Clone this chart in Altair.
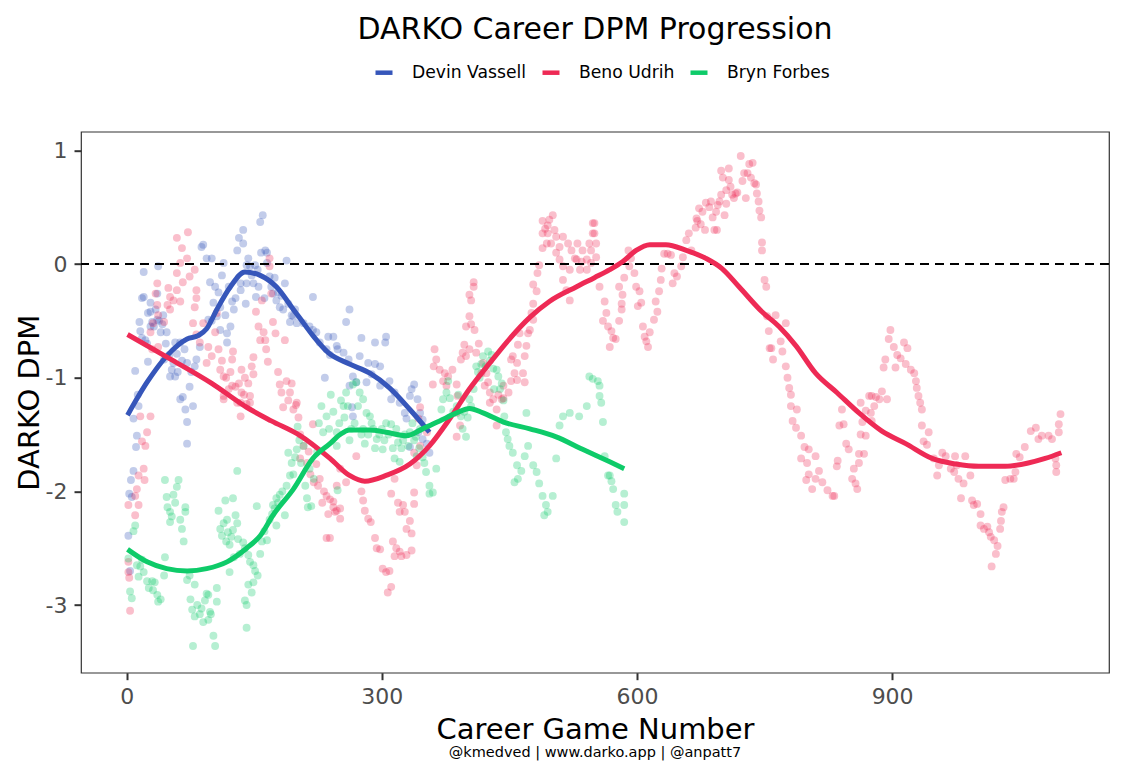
import altair as alt
import pandas as pd

PLAYERS = ["Devin Vassell", "Beno Udrih", "Bryn Forbes"]
COLORS = ["#3656BA", "#EE2A55", "#0ECB69"]
TITLE = "DARKO Career DPM Progression"
X_TITLE = "Career Game Number"
Y_TITLE = "DARKO DPM"
CAPTION = "@kmedved | www.darko.app | @anpatt7"
X_TICKS = [0, 300, 600, 900]
Y_TICKS = [-3, -2, -1, 0, 1]

DEVIN_POINTS = [
    (2, -2.39), (3, -2.02), (4, -2.7), (5, -1.9), (6, -2.05), (8, -1.82), (8, -1.36), (10, -0.94),
    (11, -1.61), (12, -1.51), (13, -1.15), (14, -1.25), (15, -0.51), (16, -0.59), (18, -0.30),
    (18, -0.65), (20, -0.29), (20, -0.07), (22, -0.67), (24, -0.70), (25, -0.43), (25, -0.86),
    (28, -0.34), (28, -0.42), (28, -0.55), (30, -0.51), (32, -0.55), (34, -0.40), (36, -0.49),
    (36, -0.26), (37, -0.02), (38, -0.50), (40, -0.60), (42, -0.53), (43, -0.45), (44, -0.84),
    (46, -0.70), (47, -0.60), (50, -0.80), (51, -0.99), (53, -0.93), (55, -0.87), (57, -0.99),
    (57, -0.69), (59, -0.79), (60, -0.95), (63, -0.69), (63, -1.19), (65, -0.85), (66, -1.17),
    (68, -0.75), (69, -1.28), (71, -1.39), (71, -1.58), (71, -0.87), (74, -1.08), (76, -0.95),
    (78, -1.25), (80, -0.90), (82, -0.84), (86, -0.73), (88, 0.15), (90, 0.17), (94, 0.05),
    (96, -0.49), (98, -0.16), (100, -0.50), (100, 0.05), (102, -0.34), (104, -0.20), (106, -0.46),
    (108, -0.25), (110, -0.58), (110, -0.38), (112, -0.10), (114, 0.01), (116, -0.45), (118, -0.69),
    (118, -0.61), (120, -0.20), (122, -0.55), (124, -0.33), (126, -0.40), (128, -0.30), (130, 0.12),
    (132, 0.23), (134, -0.23), (134, -0.17), (137, 0.30), (137, 0.18), (140, -0.35), (141, -0.17),
    (141, -0.01), (143, 0.05), (145, -0.02), (147, -0.10), (149, -0.17), (151, -0.01), (152, -0.29),
    (154, -0.05), (155, -0.20), (157, 0.37), (158, 0.10), (160, 0.43), (162, -0.30), (163, 0.12),
    (165, 0.01), (165, 0.10), (168, -0.11), (170, -0.20), (172, -0.26), (174, -0.12), (176, -0.32),
    (178, -0.25), (180, -0.38), (182, -0.28), (184, -0.40), (186, -0.17), (188, 0.03), (190, -0.35),
    (192, -0.51), (194, -0.45), (196, -0.46), (198, -0.40), (200, -0.52), (208, -0.52), (215, -0.55),
    (219, -0.29), (219, -0.58), (223, -0.60), (227, -0.69), (233, -1.0), (235, -0.75), (237, -0.64),
    (239, -0.8), (243, -0.64), (247, -0.72), (248, -0.75), (255, -0.78), (258, -0.51), (261, -0.84),
    (262, -0.40), (262, -1.07), (265, -1.26), (266, -0.99), (266, -1.34), (270, -1.04), (274, -0.81),
    (276, -0.65), (282, -1.04), (284, -0.87), (288, -0.97), (292, -0.69), (292, -0.88), (298, -0.90),
    (298, -1.07), (304, -0.69), (305, -0.64), (309, -1.03), (311, -1.19), (315, -1.13), (321, -1.22),
    (327, -1.31), (329, -1.36), (333, -1.16), (333, -1.61), (335, -1.10), (338, -1.06), (342, -1.19),
    (343, -1.48), (345, -1.31), (348, -1.37), (348, -1.54), (353, -1.58), (356, -1.66),
]

BENO_POINTS = [
    (2, -2.12), (2, -2.62), (2, -2.71), (3, -2.76), (4, -3.05), (10, -2.04), (10, -2.21), (12, -1.98),
    (14, -1.86), (14, -2.12), (16, -1.34), (18, -1.56), (20, -1.80), (21, -1.90), (22, -1.60),
    (24, -1.48), (28, -1.34), (28, -0.60), (30, -0.75), (31, -0.52), (34, -0.26), (36, -0.17),
    (36, -0.36), (37, -0.45), (37, -0.73), (44, -0.51), (48, -0.36), (49, -0.21), (51, -0.29),
    (51, -0.40), (55, -0.32), (59, 0.23), (59, -0.08), (59, -0.23), (63, 0.01), (63, -0.33),
    (65, 0.14), (66, -0.16), (71, 0.05), (72, 0.28), (74, -0.11), (78, -0.52), (80, -0.05),
    (80, -0.38), (82, -0.23), (82, -0.30), (82, -0.62), (86, -0.69), (90, -0.52), (94, -0.87),
    (96, -0.73), (100, -0.81), (104, -0.60), (106, -0.43), (108, -0.75), (110, -0.93), (112, -0.85),
    (114, -0.99), (114, -1.16), (114, -1.19), (117, -1.0), (120, -1.10), (122, -0.95), (124, -0.84),
    (124, -1.07), (125, -0.77), (128, -1.08), (130, -1.22), (132, -1.05), (134, -1.22), (134, -1.34),
    (135, -0.93), (135, -1.13), (138, -1.15), (139, -1.0), (141, -1.23), (143, -1.05), (145, -1.16),
    (145, -1.22), (147, -0.90), (149, -0.97), (149, -0.82), (152, -0.42), (155, -0.55), (157, -0.67),
    (159, -0.32), (161, -0.60), (163, -0.67), (164, -0.75), (166, -0.86), (168, -0.02), (168, 0.05),
    (170, -0.26), (172, -0.51), (175, -0.61), (178, -0.95), (180, -1.06), (182, -1.13), (184, -1.26),
    (186, -0.67), (188, -1.03), (190, -1.20), (192, -1.13), (194, -1.05), (196, -1.28), (199, -1.24),
    (200, -1.22), (202, -1.35), (204, -1.50), (204, -1.71), (208, -1.60), (212, -1.75), (214, -1.65),
    (216, -1.85), (219, -1.41), (220, -1.92), (223, -1.76), (225, -1.95), (227, -1.89), (230, -2.10),
    (232, -2.0), (235, -2.04), (235, -2.41), (237, -2.20), (239, -2.07), (239, -2.41), (243, -2.14),
    (243, -2.09), (245, -2.18), (247, -2.17), (247, -1.95), (251, -1.80), (251, -2.15), (251, -2.24),
    (258, -1.92), (270, -1.69), (276, -2.0), (278, -2.08), (280, -2.17), (284, -2.24), (287, -2.27),
    (292, -2.41), (294, -2.50), (298, -2.51), (301, -2.68), (305, -2.71), (307, -2.89), (309, -2.70),
    (311, -2.84), (311, -2.02), (313, -2.44), (315, -1.89), (315, -2.57), (317, -2.50), (319, -2.10),
    (321, -2.18), (321, -2.53), (323, -2.57), (325, -2.12), (327, -2.18), (329, -2.33), (329, -2.56),
    (333, -2.26), (335, -2.37), (335, -2.52), (338, -2.11), (338, -2.01), (338, -1.66), (341, -1.77),
    (343, -1.36), (345, -1.60), (345, -1.26), (353, -1.48), (360, -1.06), (361, -0.90), (362, -0.75),
    (364, -0.84), (368, -0.93), (372, -1.03), (374, -0.96), (376, -1.07), (378, -0.99), (383, -0.93),
    (388, -1.06), (388, -1.31), (388, -1.52), (389, -1.16), (392, -1.42), (393, -0.84), (395, -0.78),
    (397, -0.71), (399, -0.81), (399, -0.55), (403, -0.46), (403, -0.27), (403, -0.75), (405, -0.53),
    (405, -0.32), (408, -0.16), (408, -0.20), (409, -0.58), (411, -0.78), (414, -0.70), (417, -0.96),
    (419, -0.87), (421, -1.07), (423, -0.96), (425, -1.04), (427, -1.13), (427, -1.22), (431, -1.19),
    (435, -1.28), (435, -1.42), (437, -1.15), (441, -1.19), (443, -1.18), (443, -1.07), (449, -1.13),
    (452, -1.03), (452, -0.84), (454, -0.81), (456, -0.96), (459, -0.87), (459, -1.02), (460, -0.71),
    (462, -0.61), (466, -0.96), (468, -0.81), (468, -1.04), (470, -0.72), (472, -0.61), (474, -0.58),
    (476, -0.43), (478, -0.35), (478, -0.18), (478, -0.49), (482, -0.24), (483, -0.08), (485, -0.01),
    (489, 0.14), (489, 0.38), (489, 0.27), (492, 0.31), (494, 0.18), (495, 0.34), (495, 0.27),
    (497, 0.39), (499, 0.18), (501, 0.43), (503, 0.30), (505, 0.24), (505, 0.10), (509, 0.15),
    (509, 0.04), (513, -0.02), (513, -0.14), (513, 0.24), (517, -0.23), (519, 0.18), (521, -0.05),
    (521, -0.32), (523, 0.12), (527, 0.05), (529, 0.04), (530, 0.18), (533, -0.05), (535, 0.02),
    (536, 0.12), (541, -0.05), (541, 0.04), (544, 0.18), (546, 0.01), (546, 0.12), (548, 0.36),
    (548, 0.27), (550, 0.36), (550, 0.27), (552, 0.18), (552, 0.06), (556, -0.20), (560, -0.50),
    (562, -0.33), (564, -0.43), (566, -0.55), (568, -0.73), (570, -0.59), (572, -0.65), (575, -0.66),
    (579, -0.50), (579, -0.20), (582, -0.40), (582, -0.35), (583, -0.27), (585, -0.12), (590, 0.12),
    (591, -0.02), (593, 0.05), (597, -0.08), (599, -0.20), (601, -0.37), (603, -0.24), (605, -0.34),
    (607, -0.55), (609, -0.64), (611, -0.68), (613, -0.73), (615, -0.60), (620, -0.49), (622, -0.33),
    (624, -0.42), (626, -0.24), (628, -0.14), (629, -0.04), (632, 0.09), (636, 0.09), (640, 0.08),
    (642, -0.17), (644, -0.08), (647, -0.11), (652, -0.02), (654, 0.06), (658, 0.21), (661, 0.27),
    (664, 0.12), (669, 0.32), (670, 0.40), (671, 0.38), (673, 0.49), (675, 0.35), (677, 0.46),
    (680, 0.30), (681, 0.54), (685, 0.50), (687, 0.55), (689, 0.41), (691, 0.30), (693, 0.46),
    (694, 0.30), (695, 0.52), (697, 0.55), (699, 0.61), (699, 0.82), (701, 0.76), (703, 0.43),
    (705, 0.53), (705, 0.65), (708, 0.84), (708, 0.74), (710, 0.68), (712, 0.61), (714, 0.58),
    (716, 0.62), (718, 0.63), (722, 0.95), (724, 0.73), (726, 0.80), (728, 0.58), (730, 0.80),
    (732, 0.88), (734, 0.76), (736, 0.89), (738, 0.71), (740, 0.70), (741, 0.62), (743, 0.55),
    (744, 0.47), (746, 0.41), (747, 0.19), (747, 0.12), (750, -0.14), (752, -0.20), (753, -0.46),
    (755, -0.59), (756, -0.74), (758, -0.74), (760, -0.84), (763, -0.45), (769, -0.68), (771, -0.77),
    (775, -0.52), (775, -0.90), (777, -1.00), (779, -1.09), (781, -1.15), (781, -1.25), (783, -1.38),
    (787, -1.44), (788, -1.28), (793, -1.51), (793, -1.71), (797, -1.61), (799, -1.90), (800, -1.75),
    (802, -1.63), (802, -1.85), (806, -1.98), (810, -1.69), (810, -1.89), (814, -1.82), (818, -1.92),
    (824, -1.99), (830, -2.04), (832, -2.04), (835, -1.78), (836, -1.73), (838, -1.42), (841, -1.28),
    (843, -1.41), (846, -1.58), (849, -1.63), (853, -1.89), (855, -1.80), (857, -1.93), (859, -1.98),
    (861, -1.67), (861, -1.75), (863, -1.50), (863, -1.22), (865, -1.39), (867, -1.67), (869, -1.51),
    (869, -1.29), (873, -1.16), (875, -1.31), (876, -1.38), (876, -1.16), (879, -1.25), (881, -1.17),
    (885, -1.19), (888, -1.12), (890, -0.91), (892, -0.84), (894, -1.19), (896, -0.66), (898, -0.58),
    (902, -0.73), (904, -0.91), (906, -0.80), (910, -0.83), (914, -0.69), (916, -0.88), (918, -0.74),
    (922, -0.93), (926, -0.96), (928, -1.03), (929, -1.09), (931, -1.16), (933, -1.22), (935, -1.28),
    (935, -1.42), (937, -1.56), (941, -1.59), (943, -1.48), (949, -1.71), (953, -1.86), (955, -1.77),
    (959, -1.66), (963, -1.69), (969, -1.80), (973, -1.83), (974, -1.69), (976, -1.77), (978, -1.89),
    (981, -2.06), (984, -1.93), (986, -1.69), (992, -1.86), (994, -2.08), (996, -2.12), (1000, -2.11),
    (1004, -2.20), (1004, -2.30), (1008, -2.33), (1012, -2.31), (1014, -2.36), (1016, -2.40),
    (1017, -2.66), (1020, -2.43), (1022, -2.55), (1024, -2.48), (1027, -2.33), (1028, -2.26),
    (1029, -2.18), (1031, -2.14), (1033, -1.90), (1039, -1.89), (1043, -1.89), (1045, -1.83),
    (1046, -1.67), (1050, -1.70), (1056, -1.61), (1063, -1.47), (1069, -1.44), (1072, -1.54),
    (1076, -1.51), (1084, -1.51), (1088, -1.54), (1092, -1.71), (1093, -1.77), (1093, -1.83),
    (1096, -1.48), (1096, -1.41), (1098, -1.32),
]

BRYN_POINTS = [
    (2, -2.59), (4, -2.88), (6, -2.94), (8, -2.35), (10, -2.30), (12, -2.65), (14, -2.75), (16, -2.66),
    (18, -2.60), (20, -2.71), (24, -2.79), (26, -2.85), (30, -2.79), (31, -2.87), (33, -2.80),
    (36, -2.91), (37, -2.97), (40, -2.95), (44, -2.74), (45, -1.90), (45, -2.58), (47, -2.05),
    (48, -2.14), (51, -2.18), (51, -2.27), (53, -2.22), (55, -2.03), (57, -2.10), (59, -1.96),
    (61, -1.90), (63, -2.25), (65, -2.33), (67, -2.44), (69, -2.14), (69, -2.18), (71, -2.78),
    (74, -2.74), (75, -2.95), (77, -3.04), (78, -3.36), (80, -2.82), (80, -3.10), (83, -3.00),
    (86, -3.08), (88, -3.03), (90, -3.15), (92, -2.96), (94, -2.90), (96, -2.91), (96, -3.13),
    (98, -3.06), (99, -3.08), (102, -3.27), (104, -3.36), (106, -2.85), (106, -2.97), (108, -2.17),
    (110, -2.33), (112, -2.39), (114, -2.28), (116, -2.08), (117, -2.44), (118, -2.25), (119, -2.36),
    (121, -2.47), (121, -2.71), (123, -2.40), (125, -2.06), (125, -2.34), (126, -2.58), (128, -2.21),
    (130, -2.28), (130, -1.82), (131, -2.42), (133, -2.55), (137, -2.45), (139, -2.50), (139, -2.96),
    (141, -3.0), (141, -3.20), (143, -2.56), (143, -2.82), (145, -2.62), (147, -2.89), (149, -2.65),
    (149, -2.80), (151, -2.70), (153, -2.13), (154, -2.74), (157, -2.55), (159, -2.44), (162, -2.35),
    (165, -2.43), (168, -2.25), (171, -2.20), (172, -2.12), (174, -2.15), (176, -2.30), (176, -2.06),
    (178, -2.10), (180, -2.03), (183, -2.00), (186, -2.21), (188, -1.95), (190, -1.66), (192, -1.86),
    (194, -1.75), (196, -1.85), (198, -1.70), (200, -1.63), (201, -1.43), (203, -1.55), (205, -1.75),
    (208, -1.60), (210, -1.95), (212, -2.06), (213, -2.14), (215, -1.80), (217, -2.13), (220, -1.89),
    (224, -1.65), (226, -1.40), (229, -1.25), (231, -1.48), (235, -1.34), (238, -1.45), (240, -1.15),
    (243, -1.30), (247, -1.60), (247, -1.48), (248, -1.99), (250, -1.40), (252, -1.20), (255, -1.25),
    (256, -1.35), (258, -1.13), (260, -1.25), (262, -1.55), (264, -1.45), (266, -1.06), (268, -1.40),
    (270, -1.04), (272, -1.25), (274, -1.13), (276, -1.50), (278, -1.19), (278, -1.45), (280, -1.58),
    (282, -1.31), (284, -1.50), (286, -1.34), (288, -1.40), (290, -1.45), (292, -1.62), (294, -1.54),
    (297, -1.50), (300, -1.45), (301, -1.63), (303, -1.55), (305, -1.40), (308, -1.50), (311, -1.41),
    (313, -1.62), (315, -1.71), (317, -1.45), (319, -1.57), (321, -1.74), (323, -1.62), (325, -1.55),
    (327, -1.50), (331, -1.60), (333, -1.48), (336, -1.40), (338, -1.55), (340, -1.52), (341, -1.69),
    (344, -1.62), (345, -1.45), (348, -1.70), (350, -1.75), (352, -1.83), (356, -1.95), (356, -2.02),
    (360, -2.01), (364, -1.80), (370, -1.28), (372, -1.19), (376, -1.13), (378, -1.03), (380, -1.18),
    (384, -1.30), (388, -1.25), (390, -1.15), (393, -1.34), (395, -1.45), (397, -1.30), (399, -1.52),
    (401, -1.35), (403, -1.19), (405, -1.25), (408, -1.10), (411, -0.90), (413, -0.95), (415, -1.0),
    (417, -0.88), (419, -0.81), (422, -0.9), (425, -0.77), (427, -0.85), (429, -0.80), (431, -0.92),
    (432, -1.1), (435, -0.93), (437, -0.99), (439, -1.10), (441, -1.05), (443, -1.20), (444, -1.34),
    (446, -1.48), (448, -1.54), (450, -1.60), (454, -1.66), (456, -1.92), (459, -1.77), (460, -1.89),
    (464, -1.82), (468, -1.69), (470, -1.31), (472, -1.60), (478, -1.77), (482, -1.83), (485, -1.93),
    (489, -2.04), (491, -2.21), (493, -2.12), (495, -2.18), (501, -2.04), (505, -1.71), (509, -1.42),
    (513, -1.34), (521, -1.31), (532, -1.34), (541, -1.25), (544, -0.99), (548, -1.01), (554, -1.03),
    (556, -1.07), (556, -1.16), (558, -1.22), (560, -1.39), (562, -1.69), (566, -1.86), (568, -1.86),
    (570, -1.91), (572, -1.98), (575, -2.12), (577, -2.18), (585, -2.02), (585, -2.12), (585, -2.27),
]

DEVIN_SMOOTH = [
    (1, -1.33), (24, -1.04), (47, -0.81), (71, -0.66), (84, -0.63), (94, -0.57), (106, -0.40),
    (122, -0.20), (139, -0.07), (157, -0.10), (176, -0.20), (196, -0.40), (204, -0.48), (219, -0.63),
    (237, -0.78), (262, -0.88), (286, -0.96), (309, -1.09), (333, -1.28), (356, -1.48),
]
BENO_SMOOTH = [
    (1, -0.62), (50, -0.83), (100, -1.05), (141, -1.26), (170, -1.38), (204, -1.51), (239, -1.71),
    (262, -1.86), (280, -1.91), (305, -1.86), (333, -1.76), (356, -1.60), (380, -1.36), (403, -1.10),
    (427, -0.87), (450, -0.66), (474, -0.47), (497, -0.33), (529, -0.20), (550, -0.12), (568, -0.05),
    (583, 0.02), (599, 0.12), (615, 0.17), (634, 0.17), (658, 0.12), (681, 0.05), (700, -0.04),
    (720, -0.20), (747, -0.42), (767, -0.55), (787, -0.72), (810, -0.96), (835, -1.13), (861, -1.31),
    (888, -1.47), (916, -1.58), (947, -1.71), (975, -1.76), (1002, -1.78), (1033, -1.78),
    (1060, -1.75), (1080, -1.71), (1099, -1.66),
]
BRYN_SMOOTH = [
    (1, -2.51), (24, -2.62), (47, -2.68), (71, -2.70), (94, -2.68), (118, -2.62), (141, -2.50),
    (157, -2.39), (172, -2.21), (196, -1.98), (219, -1.71), (239, -1.58), (251, -1.50), (262, -1.46),
    (286, -1.46), (305, -1.48), (329, -1.51), (348, -1.45), (368, -1.38), (388, -1.31), (403, -1.27),
    (419, -1.31), (443, -1.39), (474, -1.45), (505, -1.52), (536, -1.63), (568, -1.74), (585, -1.80),
]

FONT = "DejaVu Sans"

point_rows = []
for name, pts in zip(PLAYERS, [DEVIN_POINTS, BENO_POINTS, BRYN_POINTS]):
    for g, v in pts:
        point_rows.append({"player": name, "game": g, "dpm": v})
points_df = pd.DataFrame(point_rows)

smooth_rows = []
for name, pts in zip(PLAYERS, [DEVIN_SMOOTH, BENO_SMOOTH, BRYN_SMOOTH]):
    for i, (g, v) in enumerate(pts):
        smooth_rows.append({"player": name, "game": g, "dpm": v, "ord": i})
smooth_df = pd.DataFrame(smooth_rows)

x_enc = alt.X(
    "game:Q",
    scale=alt.Scale(domain=[-53.7, 1155], nice=False, zero=False),
    axis=alt.Axis(values=X_TICKS, title=X_TITLE, format="d"),
)
y_enc = alt.Y(
    "dpm:Q",
    scale=alt.Scale(domain=[-3.595, 1.164], nice=False, zero=False),
    axis=alt.Axis(values=Y_TICKS, title=Y_TITLE, labelExpr="toString(datum.value)"),
)
color_enc = alt.Color(
    "player:N",
    scale=alt.Scale(domain=PLAYERS, range=COLORS),
    legend=alt.Legend(
        title=None,
        orient="none",
        direction="horizontal",
        legendX=292,
        legendY=-70,
        symbolType="stroke",
        symbolStrokeWidth=4.5,
        symbolSize=289,
        symbolOpacity=1,
        labelFontSize=17.2,
        labelFont=FONT,
        labelColor="black",
        labelOffset=17,
        columnPadding=6,
        padding=0,
    ),
)

points = alt.Chart(points_df).mark_circle(size=62, opacity=0.3).encode(
    x=x_enc, y=y_enc, color=color_enc
)
zero_line = alt.Chart(pd.DataFrame({"v": [0]})).mark_rule(
    color="black", strokeWidth=2, strokeDash=[9, 6]
).encode(y="v:Q")
lines = alt.Chart(smooth_df).mark_line(strokeWidth=5, interpolate="monotone").encode(
    x=x_enc, y=y_enc, color=color_enc, order="ord:Q"
)
caption = alt.Chart(pd.DataFrame({"t": [CAPTION]})).mark_text(
    font=FONT, fontSize=14.5, color="black", align="center", baseline="alphabetic"
).encode(text="t:N", x=alt.value(514), y=alt.value(625.3))

chart = (
    alt.layer(points, zero_line, lines, caption)
    .properties(
        width=1028,
        height=541,
        autosize=alt.AutoSizeParams(type="none"),
        padding={"left": 73, "top": 123.7, "right": 8, "bottom": 94},
        title=alt.TitleParams(
            TITLE, font=FONT, fontSize=30, fontWeight="normal", color="black",
            anchor="middle", baseline="alphabetic", offset=-7.5,
        ),
    )
    .configure_view(stroke="#333333", strokeWidth=1.2)
    .configure_axis(
        domain=False,
        grid=False,
        ticks=True,
        tickColor="#333333",
        tickWidth=2,
        tickSize=7,
        labelFont=FONT,
        labelFontSize=22,
        labelColor="#4D4D4D",
        labelPadding=7,
        titleFont=FONT,
        titleFontSize=29,
        titleFontWeight="normal",
        titleColor="black",
    )
    .configure_axisX(titlePadding=8)
    .configure_axisY(titlePadding=1)
)

chart.save("out.html", embed_options={"renderer": "svg", "actions": False})
